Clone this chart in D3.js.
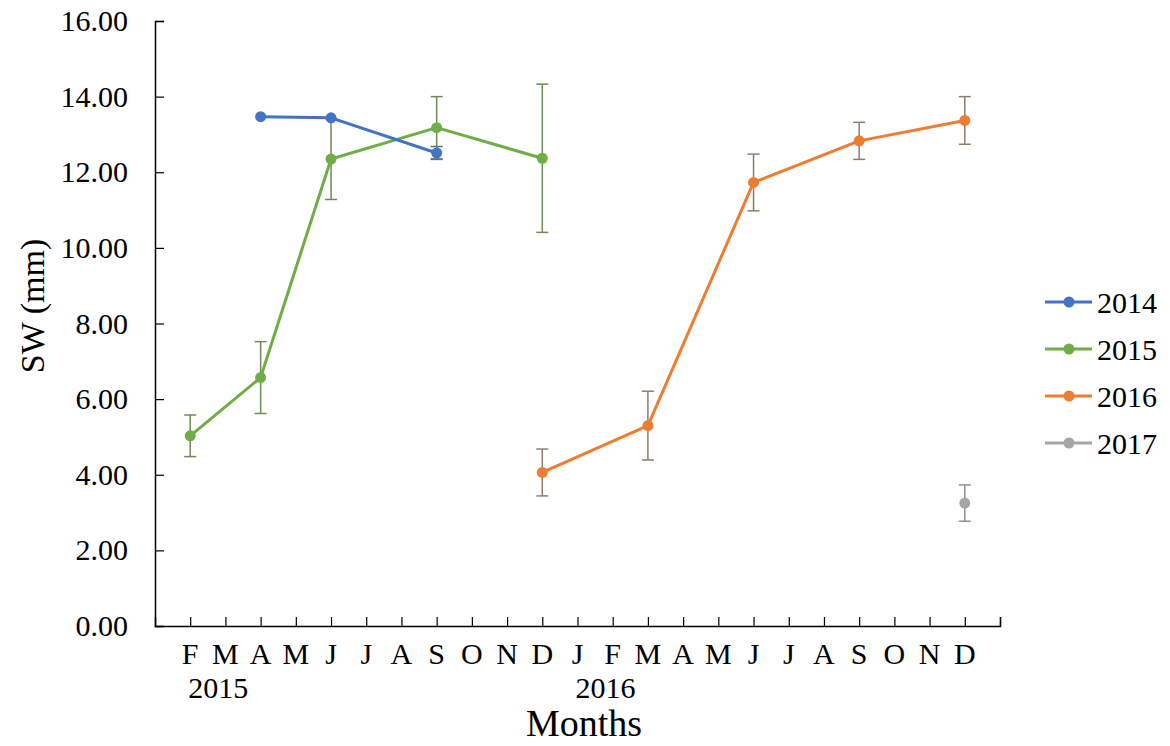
<!DOCTYPE html>
<html>
<head>
<meta charset="utf-8">
<script src="https://cdn.jsdelivr.net/npm/d3@7"></script>
<style>
  body { margin: 0; background: #fff; }
  svg text { font-family: "Liberation Serif", "Times New Roman", serif !important; fill: #000; }
</style>
</head>
<body>
<div id="root"></div>
<script>
// month ticks 1..23 (Feb 2015 .. Dec 2016), 0 = Jan 2015 at the y axis
const monthLabels = ['F', 'M', 'A', 'M', 'J', 'J', 'A', 'S', 'O', 'N', 'D',
  'J', 'F', 'M', 'A', 'M', 'J', 'J', 'A', 'S', 'O', 'N', 'D'];
const yearLabels = ['2015', '2016'];
const yearPositions = [1, 12];
const yTicks = [0, 2, 4, 6, 8, 10, 12, 14, 16];

const seriesNames = ['2014', '2015', '2016', '2017'];
const seriesColors = ['#4472C4', '#70AD47', '#ED7D31', '#A5A5A5'];
const errorColors = ['#50689a', '#6f8a55', '#8f7d6c', '#8f8f8f'];

const months2014 = [3, 5, 8];
const sw2014 = [13.47, 13.44, 12.51];
const err2014 = [0, 0, 0.17];

const months2015 = [1, 3, 5, 8, 11];
const sw2015 = [5.03, 6.57, 12.35, 13.18, 12.37];
const err2015 = [0.55, 0.95, 1.07, 0.82, 1.96];

const months2016 = [11, 14, 17, 20, 23];
const sw2016 = [4.06, 5.30, 11.73, 12.83, 13.37];
const err2016 = [0.62, 0.91, 0.75, 0.49, 0.63];

const months2017 = [23];
const sw2017 = [3.25];
const err2017 = [0.48];

const width = 1170;
const height = 746;
const plotLeft = 155;
const plotRight = 1000;
const plotTop = 21;
const plotBottom = 626;
const fontFamily = '"Liberation Serif", "Times New Roman", serif';

const series = [
  [months2014, sw2014, err2014],
  [months2015, sw2015, err2015],
  [months2016, sw2016, err2016],
  [months2017, sw2017, err2017],
].map(([m, v, e], i) => ({
  name: seriesNames[i],
  color: seriesColors[i],
  errColor: errorColors[i],
  points: m.map((month, k) => ({ month, value: v[k], err: e[k] })),
}));

const x = d3.scaleLinear().domain([0, 24]).range([plotLeft, plotRight]);
const y = d3.scaleLinear().domain([0, 16]).range([plotBottom, plotTop]);

const svg = d3.select('#root')
  .append('svg')
  .attr('width', width)
  .attr('height', height)
  .attr('font-family', fontFamily);

// y axis
const yAxis = svg.append('g')
  .attr('transform', `translate(${ plotLeft },0)`)
  .call(d3.axisRight(y).tickValues(yTicks).tickSize(9).tickFormat(d3.format('.2f')))
  .attr('font-family', fontFamily);
yAxis.select('.domain').attr('stroke', '#000').attr('stroke-width', 1.5);
yAxis.selectAll('.tick line').attr('stroke', '#000').attr('stroke-width', 1.2);
yAxis.selectAll('.tick text')
  .attr('x', -27)
  .attr('text-anchor', 'end')
  .style('font-family', fontFamily)
  .style('font-size', '30px');

// x axis
const xAxis = svg.append('g')
  .attr('transform', `translate(0,${ plotBottom })`)
  .call(d3.axisTop(x).tickValues(d3.range(1, 25)).tickSize(9).tickFormat(''));
xAxis.select('.domain').attr('stroke', '#000').attr('stroke-width', 1.5);
xAxis.selectAll('.tick line').attr('stroke', '#000').attr('stroke-width', 1.2);

svg.append('g')
  .selectAll('text')
  .data(monthLabels)
  .join('text')
  .attr('x', (_d, i) => x(i + 1))
  .attr('y', 664)
  .attr('text-anchor', 'middle')
  .style('font-family', fontFamily)
  .style('font-size', '30px')
  .text((d) => d);

svg.append('g')
  .selectAll('text')
  .data(yearLabels)
  .join('text')
  .attr('x', (_d, i) => x(yearPositions[i]) - 2)
  .attr('y', 698)
  .style('font-family', fontFamily)
  .style('font-size', '30px')
  .text((d) => d);

svg.append('text')
  .attr('x', 584)
  .attr('y', 736)
  .attr('text-anchor', 'middle')
  .style('font-family', fontFamily)
  .style('font-size', '38px')
  .text('Months');

svg.append('text')
  .attr('transform', 'translate(44,306) rotate(-90)')
  .attr('text-anchor', 'middle')
  .style('font-family', fontFamily)
  .style('font-size', '34px')
  .text('SW (mm)');

// error bars
const capHalf = 6;
series.forEach((s) => {
  const g = svg.append('g')
    .attr('stroke', s.errColor)
    .attr('stroke-width', 1.5);
  const withErr = s.points.filter((p) => p.err > 0);
  g.selectAll('.bar')
    .data(withErr)
    .join('line')
    .attr('x1', (p) => x(p.month))
    .attr('x2', (p) => x(p.month))
    .attr('y1', (p) => y(p.value + p.err))
    .attr('y2', (p) => y(p.value - p.err));
  [1, -1].forEach((sign) => {
    g.selectAll(null)
      .data(withErr)
      .join('line')
      .attr('x1', (p) => x(p.month) - capHalf)
      .attr('x2', (p) => x(p.month) + capHalf)
      .attr('y1', (p) => y(p.value + sign * p.err))
      .attr('y2', (p) => y(p.value + sign * p.err));
  });
});

// lines and markers
const line = d3.line()
  .x((p) => x(p.month))
  .y((p) => y(p.value));

series.slice().reverse().forEach((s) => {
  svg.append('path')
    .datum(s.points)
    .attr('d', line)
    .attr('fill', 'none')
    .attr('stroke', s.color)
    .attr('stroke-width', 3)
    .attr('stroke-linejoin', 'round');
  svg.append('g')
    .selectAll('circle')
    .data(s.points)
    .join('circle')
    .attr('cx', (p) => x(p.month))
    .attr('cy', (p) => y(p.value))
    .attr('r', 5.5)
    .attr('fill', s.color);
});

// legend
const legend = svg.append('g')
  .selectAll('g')
  .data(series)
  .join('g')
  .attr('transform', (_d, i) => `translate(1045,${ 302 + i * 47 })`);
legend.append('line')
  .attr('x1', 0)
  .attr('x2', 47)
  .attr('stroke', (d) => d.color)
  .attr('stroke-width', 3);
legend.append('circle')
  .attr('cx', 24)
  .attr('r', 5.5)
  .attr('fill', (d) => d.color);
legend.append('text')
  .attr('x', 52)
  .attr('dy', '0.35em')
  .style('font-family', fontFamily)
  .style('font-size', '30px')
  .text((d) => d.name);
</script>
</body>
</html>
